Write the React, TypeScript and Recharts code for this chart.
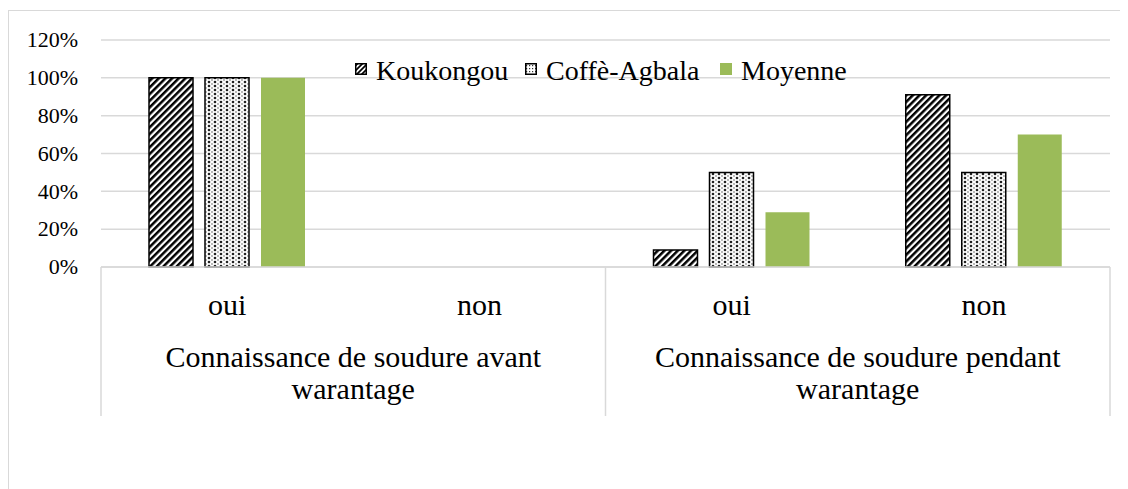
import React from 'react';
import { BarChart, Bar, XAxis, YAxis, CartesianGrid, Legend } from 'recharts';

const answers = ['oui', 'non', 'oui', 'non'];
const groupOfAnswer = [0, 0, 1, 1];
const groupLabels = ['Connaissance de soudure avant\nwarantage', 'Connaissance de soudure pendant\nwarantage'];
const koukongou = [100, 0, 9, 91];
const coffeAgbala = [100, 0, 50, 50];
const moyenne = [100, 0, 29, 70];
const yTicks = [0, 20, 40, 60, 80, 100, 120];

const seriesNames = ['Koukongou', 'Coffè-Agbala', 'Moyenne'];

const data = answers.map((a, i) => ({
  answer: a,
  group: groupLabels[groupOfAnswer[i]],
  k: koukongou[i],
  c: coffeAgbala[i],
  m: moyenne[i],
}));

const FONT = 'Liberation Serif, Times New Roman, serif';
const GRID = '#d9d9d9';
const GREEN = '#9BBB59';

const CHART_W = 1120;
const CHART_H = 481;
const Y_W = 93;
const MARGIN = { top: 32, right: 18, left: 0, bottom: 71 };
const ANS_H = 61;
const GRP_H = 90;
const PLOT_W = CHART_W - Y_W - MARGIN.left - MARGIN.right;
const DIVIDER_BELOW = 88;

const YTick = (props: any) => {
  const { x, y, payload } = props;
  return (
    <text x={x} y={y} dy="0.33em" textAnchor="end" fontFamily={FONT} fontSize={22} fill="#000">
      {`${payload.value}%`}
    </text>
  );
};

const AnswerTick = (props: any) => {
  const { x, y, payload } = props;
  return (
    <text x={x} y={y + 48} textAnchor="middle" fontFamily={FONT} fontSize={30} fill="#000">
      {payload.value}
    </text>
  );
};

const GroupTick = (props: any) => {
  const { x, y, payload, index } = props;
  const lines = String(payload.value).split('\n');
  const half = PLOT_W / groupLabels.length / 2;
  const isLast = index === groupLabels.length - 1;
  return (
    <g>
      <line x1={x - half} x2={x - half} y1={y - ANS_H} y2={y + DIVIDER_BELOW} stroke={GRID} strokeWidth={1.5} />
      {isLast && <line x1={x + half} x2={x + half} y1={y - ANS_H} y2={y + DIVIDER_BELOW} stroke={GRID} strokeWidth={1.5} />}
      {lines.map((l, i) => (
        <text key={i} x={x} y={y + 39 + i * 32} textAnchor="middle" fontFamily={FONT} fontSize={30} fill="#000">
          {l}
        </text>
      ))}
    </g>
  );
};

const legendWidths = [170, 195, 127];

const LegendItem = ({ kind, name }: { kind: number; name: string }) => (
  <svg width={legendWidths[kind]} height={32} style={{ display: 'block', overflow: 'visible' }}>
    <defs>
      <pattern id={`lg-stripes-${kind}`} patternUnits="userSpaceOnUse" width="3.5" height="3.5" patternTransform="rotate(45)">
        <rect width="3.5" height="3.5" fill="#fff" />
        <rect width="1.8" height="3.5" fill="#000" />
      </pattern>
      <pattern id={`lg-dots-${kind}`} patternUnits="userSpaceOnUse" width="3" height="3">
        <rect width="3" height="3" fill="#fff" />
        <rect x="1" y="1" width="1.2" height="1.2" fill="#333" />
      </pattern>
    </defs>
    {kind === 0 && <rect x={0.75} y={8.75} width={10.5} height={10.5} fill={`url(#lg-stripes-${kind})`} stroke="#000" strokeWidth={1.5} />}
    {kind === 1 && <rect x={0.75} y={8.75} width={10.5} height={10.5} fill={`url(#lg-dots-${kind})`} stroke="#000" strokeWidth={1.5} />}
    {kind === 2 && <rect x={0} y={8} width={12} height={12} fill={GREEN} />}
    <text x={21} y={25} fontFamily={FONT} fontSize={28} fill="#000">
      {name}
    </text>
  </svg>
);

const LegendContent = () => (
  <div style={{ display: 'flex', justifyContent: 'center' }}>
    {seriesNames.map((n, i) => (
      <LegendItem key={n} kind={i} name={n} />
    ))}
  </div>
);

export default function App() {
  return (
    <div style={{ width: CHART_W, height: CHART_H, position: 'relative', overflow: 'hidden', background: '#fff' }}>
      <div
        style={{
          position: 'absolute',
          left: 0,
          top: 2,
          width: 1300,
          height: 700,
          borderTop: `1px solid ${GRID}`,
          borderLeft: `1px solid ${GRID}`,
        }}
      />
      <div style={{ position: 'absolute', left: 0, top: 0 }}>
        <BarChart width={CHART_W} height={CHART_H} data={data} margin={MARGIN} barSize={44} barGap={12}>
          <defs>
            <pattern id="stripes" patternUnits="userSpaceOnUse" width="4.7" height="4.7" patternTransform="rotate(45)">
              <rect width="4.7" height="4.7" fill="#fff" />
              <rect width="2.5" height="4.7" fill="#000" />
            </pattern>
            <pattern id="dots" patternUnits="userSpaceOnUse" width="6" height="4">
              <rect width="6" height="4" fill="#fff" />
              <circle cx="3" cy="2" r="1.3" fill="#222" />
              <circle cx="0" cy="0" r="0.9" fill="#999" />
              <circle cx="6" cy="0" r="0.9" fill="#999" />
              <circle cx="0" cy="4" r="0.9" fill="#999" />
              <circle cx="6" cy="4" r="0.9" fill="#999" />
            </pattern>
          </defs>
          <CartesianGrid horizontal vertical={false} stroke={GRID} strokeWidth={1.5} />
          <XAxis
            xAxisId="ans"
            dataKey="answer"
            axisLine={{ stroke: GRID, strokeWidth: 1.5 }}
            tickLine={false}
            tickSize={0}
            tickMargin={0}
            height={ANS_H}
            tick={AnswerTick}
            interval={0}
          />
          <XAxis
            xAxisId="grp"
            dataKey="group"
            allowDuplicatedCategory={false}
            axisLine={false}
            tickLine={false}
            tickSize={0}
            tickMargin={0}
            height={GRP_H}
            tick={GroupTick}
            interval={0}
          />
          <YAxis
            width={Y_W}
            domain={[0, 120]}
            ticks={yTicks}
            axisLine={false}
            tickLine={false}
            tickSize={0}
            tickMargin={23}
            tick={YTick}
          />
          <Legend
            layout="horizontal"
            verticalAlign="middle"
            align="center"
            content={LegendContent}
            wrapperStyle={{ top: 47, left: 83, width: 1019 }}
          />
          <Bar xAxisId="ans" dataKey="k" name={seriesNames[0]} fill="url(#stripes)" stroke="#000" strokeWidth={1.5} isAnimationActive={false} />
          <Bar xAxisId="ans" dataKey="c" name={seriesNames[1]} fill="url(#dots)" stroke="#000" strokeWidth={1.5} isAnimationActive={false} />
          <Bar xAxisId="ans" dataKey="m" name={seriesNames[2]} fill={GREEN} isAnimationActive={false} />
        </BarChart>
      </div>
    </div>
  );
}
